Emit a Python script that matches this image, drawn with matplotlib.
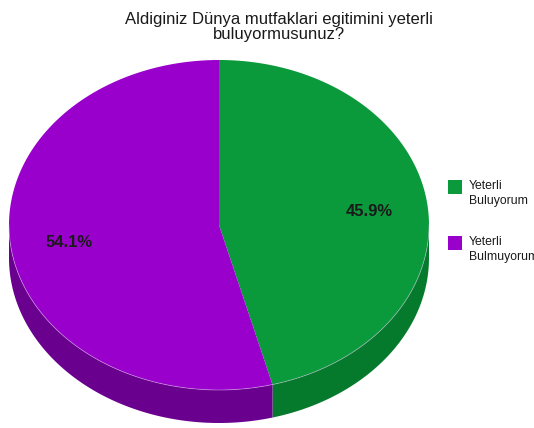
import numpy as np
import matplotlib.pyplot as plt
from matplotlib.patches import Polygon, Rectangle

# data
labels = ["Yeterli\nBuluyorum", "Yeterli\nBulmuyorum"]
values = [45.9, 54.1]
top_colors = ["#0a9a3c", "#9a00cc"]
side_colors = ["#067a2c", "#6a008e"]
title = "Aldiginiz Dünya mutfaklari egitimini yeterli\nbuluyormusunuz?"

W, H = 534, 428
fig = plt.figure(figsize=(W / 100, H / 100), dpi=100)
ax = fig.add_axes([0, 0, 1, 1])
ax.set_xlim(0, W)
ax.set_ylim(H, 0)
ax.axis("off")
plt.rcParams["font.family"] = ["Liberation Sans", "DejaVu Sans"]

# pie geometry (pixels)
cx, cy, rx, ry, depth = 219, 225, 210, 165, 33


def pt(theta, f=1.0, dy=0.0):
    # theta measured clockwise from 12 o'clock
    return cx + rx * f * np.sin(theta), cy - ry * f * np.cos(theta) + dy


total = sum(values)
bounds = np.concatenate([[0], np.cumsum(values) / total * 2 * np.pi])

# side walls (front half only)
for i in range(len(values)):
    a0 = max(bounds[i], np.pi / 2)
    a1 = min(bounds[i + 1], 3 * np.pi / 2)
    if a1 <= a0:
        continue
    t = np.linspace(a0, a1, 100)
    xs, ys = pt(t)
    xb, yb = pt(t[::-1], dy=depth)
    poly = np.column_stack([np.concatenate([xs, xb]), np.concatenate([ys, yb])])
    ax.add_patch(Polygon(poly, closed=True, fc=side_colors[i], ec="none"))

# top faces
for i in range(len(values)):
    t = np.linspace(bounds[i], bounds[i + 1], 200)
    xs, ys = pt(t)
    poly = np.column_stack([np.concatenate([[cx], xs]), np.concatenate([[cy], ys])])
    ax.add_patch(Polygon(poly, closed=True, fc=top_colors[i], ec="none"))

# faint rim highlight on front edge
t = np.linspace(np.pi / 2, 3 * np.pi / 2, 200)
xs, ys = pt(t)
ax.plot(xs, ys, color="#e0c8f0", lw=0.6, alpha=0.5)

# percentage labels
for i, v in enumerate(values):
    mid = (bounds[i] + bounds[i + 1]) / 2
    x, y = pt(mid, f=0.72)
    ax.text(x, y + 2, f"{v:.1f}%", ha="center", va="center", fontsize=12,
            fontweight="bold", color="#1a1a1a")

# title
ax.text(279, 27, title, ha="center", va="center", fontsize=12,
        color="#1a1a1a", linespacing=1.0)

# legend (second label runs past the right edge, as in the original)
for i, lab in enumerate(labels):
    y0 = 180 + i * 56
    ax.add_patch(Rectangle((448, y0), 14, 14, fc=top_colors[i], ec="none"))
    ax.text(469, y0, lab, ha="left", va="top", fontsize=8.8,
            color="#1a1a1a", linespacing=1.3)

fig.savefig("out.png", dpi=100)
